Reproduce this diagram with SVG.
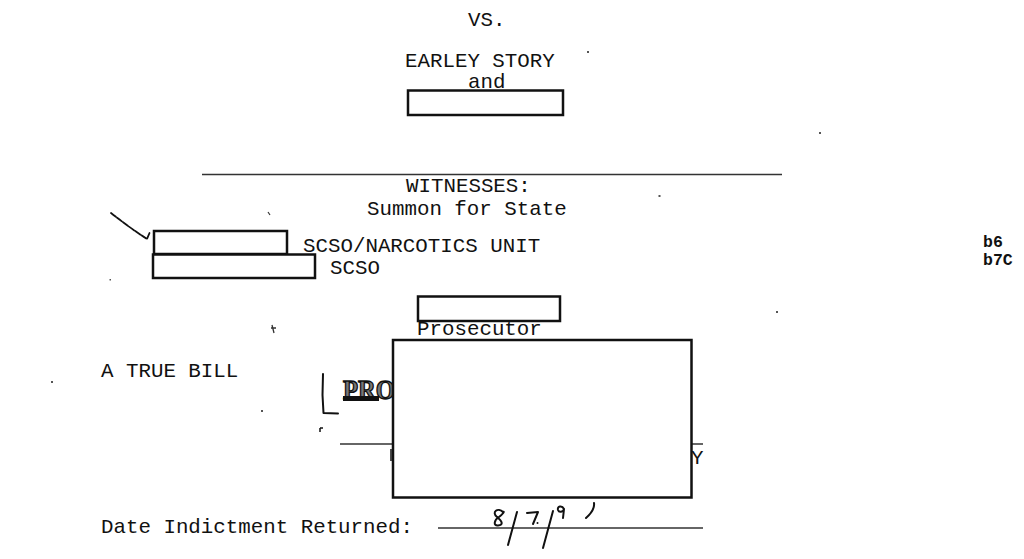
<svg xmlns="http://www.w3.org/2000/svg" width="1024" height="559" viewBox="0 0 1024 559">
  <style>
    .t { font-family: "Liberation Mono", "Courier New", monospace; font-size: 20.8px; fill: #111; }
    .b { font-family: "Liberation Mono", "Courier New", monospace; font-size: 16.5px; font-weight: bold; fill: #111; }
    .box { fill: #fff; stroke: #111; stroke-width: 2.5; }
    .rule { stroke: #333; stroke-width: 1.6; fill: none; }
    .hand { stroke: #111; stroke-width: 2; fill: none; stroke-linecap: round; stroke-linejoin: round; }
    .speck { fill: #555; }
  </style>
  <rect x="0" y="0" width="1024" height="559" fill="#fff"/>

  <g id="caption">
    <text class="t" x="468" y="26">VS.</text>
    <text class="t" x="405" y="67">EARLEY STORY</text>
    <text class="t" x="468" y="88">and</text>
  </g>
  <g id="redaction-defendant">
    <rect class="box" x="408" y="90.5" width="155" height="24.5"/>
  </g>

  <g id="witnesses">
    <line class="rule" x1="202" y1="174.5" x2="782" y2="174.5"/>
    <text class="t" x="406" y="192">WITNESSES:</text>
    <text class="t" x="367" y="215">Summon for State</text>
  </g>

  <g id="witness-1">
    <rect class="box" x="154" y="231" width="133" height="23"/>
    <text class="t" x="303" y="252">SCSO/NARCOTICS UNIT</text>
  </g>
  <g id="witness-2">
    <rect class="box" x="153" y="254.5" width="162" height="23.5"/>
    <text class="t" x="330" y="274">SCSO</text>
  </g>

  <g id="exemptions">
    <text class="b" x="983" y="247">b6</text>
    <text class="b" x="983" y="265">b7C</text>
  </g>

  <g id="prosecutor">
    <rect class="box" x="418" y="296.5" width="142" height="24.5"/>
    <text class="t" x="417" y="335">Prosecutor</text>
  </g>

  <g id="true-bill">
    <text class="t" x="101" y="377">A TRUE BILL</text>
    <path class="hand" d="M323,374 L322.5,395 L323.5,413 L338,413.5" stroke-width="1.8"/>
    <text x="343" y="399" font-family="Liberation Serif, serif" font-weight="bold" font-size="27" textLength="52" lengthAdjust="spacingAndGlyphs" fill="#777" stroke="#111" stroke-width="1.4">PRO</text>
    <rect x="343" y="396" width="36" height="5" fill="#111"/>
    <line class="rule" x1="340" y1="444" x2="703" y2="444"/>
    <text class="t" x="691" y="464">Y</text>
    <line x1="391" y1="449" x2="391" y2="461" stroke="#111" stroke-width="1.5"/>
  </g>

  <g id="redaction-signature">
    <rect class="box" x="393" y="340" width="298.5" height="157.5"/>
  </g>

  <g id="date-returned">
    <text class="t" x="101" y="533">Date Indictment Returned:</text>
    <line class="rule" x1="438" y1="528" x2="703" y2="528"/>
    <path class="hand" d="M503,512 C498,507 491,512 497,517 C502,521 504,525 498,525.5 C493,526 494,520 499,517 C503,514 505,511 503,512"/>
    <path class="hand" d="M517,512 L508,545"/>
    <path class="hand" d="M527,513 L538,512 L533,524"/>
    <circle cx="537.5" cy="523" r="1" fill="#111"/>
    <path class="hand" d="M553,511 L543,548"/>
    <path class="hand" d="M564,509 C562,505 557,506 558,510 C559,513 563,512 564,509 L563,518"/>
    <path class="hand" d="M594,503 Q595,510 586,518"/>
  </g>

  <g id="connectors">
    <path d="M111,213 Q130,228 147,239 L149.5,233" fill="none" stroke="#111" stroke-width="1.8" stroke-dasharray="6 1.5" stroke-linecap="round"/>
  </g>

  <g id="specks">
    <rect class="speck" x="587" y="51" width="2" height="2"/>
    <path d="M268,212 L270,215" stroke="#333" stroke-width="1.2"/>
    <rect class="speck" x="658.5" y="195" width="2" height="2"/>
    <rect class="speck" x="109.5" y="279" width="1.5" height="1.5"/>
    <rect class="speck" x="261" y="410" width="2" height="2"/>
    <path d="M320,428 L320,432 M320,428 L323,428" stroke="#111" stroke-width="1.5"/>
    <path d="M272,325 L274,333 M271,328 L276,328" stroke="#333" stroke-width="1.3"/>
    <rect class="speck" x="819" y="132" width="2" height="2"/>
    <rect class="speck" x="776" y="311" width="2" height="2"/>
    <rect class="speck" x="51" y="381" width="2" height="2"/>
  </g>
</svg>
